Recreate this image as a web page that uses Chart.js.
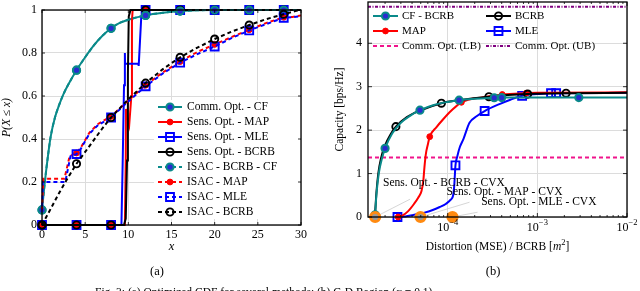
<!DOCTYPE html>
<html>
<head>
<meta charset="utf-8">
<title>Optimized CDF and C-D region</title>
<script src="https://cdn.jsdelivr.net/npm/chart.js@4.4.1/dist/chart.umd.min.js"></script>
<style>
  html, body { margin: 0; padding: 0; background: #fff; overflow: hidden; }
  #wrap { position: relative; width: 640px; height: 291px; }
  canvas { position: absolute; top: 0; }
  #cdf { left: 0; }
  #cd { left: 320px; }
  #caption { position: absolute; left: 95px; top: 286px; font: 11.5px 'Liberation Serif', serif; line-height: 13px; white-space: nowrap; color: #000; }
</style>
</head>
<body>
<div id="wrap">
  <canvas id="cdf" width="320" height="291"></canvas>
  <canvas id="cd" width="320" height="291"></canvas>
  <div id="caption">Fig. 3: (a) Optimized CDF for several methods; (b) C-D Region (α = 0.1).</div>
</div>
<script>
// ── Data: (a) CDF ──────────────────────────────────────────────
const cdfTicksX = [0, 5, 10, 15, 20, 25, 30];
const cdfTicksY = [0, 0.2, 0.4, 0.6, 0.8, 1];
const cdfTickLabelsY = ['0', '0.2', '0.4', '0.6', '0.8', '1'];
const cdfMarkX = [0, 4, 8, 12, 16, 20, 24, 28];
const isacMarkX = [4, 8, 12, 16, 20, 24, 28];

const commCfX = [0, 0.25, 0.5, 0.75, 1, 1.5, 2, 2.5, 3, 4, 5, 6, 7, 8, 9, 10, 12, 14, 16, 20, 24, 28, 30];
const commCfY = [0.07, 0.17, 0.26, 0.34, 0.41, 0.5, 0.56, 0.61, 0.65, 0.72, 0.78, 0.835, 0.88, 0.915, 0.94, 0.955, 0.975, 0.987, 0.995, 1, 1, 1, 1];

const sensMapX = [0, 4, 8, 9.6, 9.7, 9.73, 9.9, 10.1, 10.35, 10.42, 10.5, 12, 16, 20, 24, 28, 30];
const sensMapY = [0, 0, 0, 0, 0.3, 0.54, 0.5, 0.465, 0.6, 0.95, 1, 1, 1, 1, 1, 1, 1];

const sensMleX = [0, 4, 8, 9.2, 9.35, 9.5, 9.6, 9.62, 11.15, 11.2, 11.5, 12, 16, 20, 24, 28, 30];
const sensMleY = [0, 0, 0, 0, 0.3, 0.65, 0.8, 0.75, 0.75, 0.74, 0.97, 1, 1, 1, 1, 1, 1];

const sensBcrbX = [0, 4, 8, 9.5, 9.7, 9.85, 9.95, 10.05, 10.25, 12, 16, 20, 24, 28, 30];
const sensBcrbY = [0, 0, 0, 0, 0.03, 0.3, 0.7, 0.97, 1, 1, 1, 1, 1, 1, 1];

const isacCfX = [0, 0.25, 0.5, 0.75, 1, 1.5, 2, 2.5, 3, 4, 5, 6, 7, 8, 9, 10, 12, 14, 16, 20, 24, 28, 30];
const isacCfY = [0.07, 0.17, 0.26, 0.34, 0.41, 0.5, 0.56, 0.61, 0.65, 0.72, 0.78, 0.835, 0.88, 0.915, 0.94, 0.955, 0.975, 0.987, 0.995, 1, 1, 1, 1];

const isacMapX = [0, 0.15, 0.5, 1.5, 2.6, 3.2, 4, 4.5, 5.5, 6.5, 8, 10, 12, 14, 16, 18, 20, 22, 24, 26, 28, 29, 30];
const isacMapY = [0.07, 0.215, 0.215, 0.215, 0.215, 0.32, 0.335, 0.36, 0.43, 0.47, 0.505, 0.58, 0.65, 0.71, 0.76, 0.805, 0.84, 0.875, 0.908, 0.94, 0.966, 0.968, 0.975];

const isacMleX = [0, 0.1, 0.5, 1.5, 2.7, 3.3, 4, 4.5, 5.5, 6.5, 8, 10, 12, 14, 16, 18, 20, 22, 24, 26, 28, 29, 30];
const isacMleY = [0.07, 0.2, 0.2, 0.2, 0.2, 0.32, 0.33, 0.355, 0.425, 0.465, 0.5, 0.575, 0.645, 0.705, 0.755, 0.795, 0.83, 0.87, 0.905, 0.935, 0.964, 0.966, 0.972];

const isacBcrbX = [0, 1, 2, 3, 4, 5, 6, 7, 8, 10, 12, 14, 16, 18, 20, 22, 24, 26, 28, 29.5, 30];
const isacBcrbY = [0, 0.075, 0.15, 0.22, 0.285, 0.34, 0.395, 0.45, 0.5, 0.585, 0.66, 0.725, 0.78, 0.825, 0.865, 0.9, 0.93, 0.958, 0.98, 0.997, 1];

// ── Data: (b) C-D region ───────────────────────────────────────
const cdTicksX = [1e-4, 1e-3, 1e-2];
const cdTickExp = ['\u22124', '\u22123', '\u22122'];
const cdTicksY = [0, 1, 2, 3, 4];

const cfBcrbX = [1.55e-5, 1.6e-5, 1.7e-5, 1.85e-5, 2.0e-5, 2.4e-5, 3.0e-5, 3.8e-5, 4.9e-5, 7e-5, 1.0e-4, 1.34e-4, 2e-4, 2.9e-4, 3.3e-4, 4.0e-4, 1e-3, 2.9e-3, 1e-2];
const cfBcrbY = [0.05, 0.5, 1.0, 1.35, 1.58, 1.92, 2.17, 2.33, 2.46, 2.58, 2.65, 2.69, 2.72, 2.74, 2.745, 2.75, 2.75, 2.75, 2.75];
const cfBcrbMarks = [0, 4, 8, 11, 14, 15, 17];

const bcrbX = [1.53e-5, 1.56e-5, 1.6e-5, 1.68e-5, 1.8e-5, 2.0e-5, 2.3e-5, 2.64e-5, 3.5e-5, 4.9e-5, 8.5e-5, 1.34e-4, 2.88e-4, 7.8e-4, 2.09e-3, 1e-2];
const bcrbY = [0, 0.2, 0.55, 1.0, 1.35, 1.65, 1.9, 2.08, 2.3, 2.45, 2.62, 2.69, 2.77, 2.83, 2.85, 2.86];
const bcrbMarks = [7, 10, 12, 13, 14];

const mapX = [2.8e-5, 3.1e-5, 3.6e-5, 4.2e-5, 4.7e-5, 5.1e-5, 5.35e-5, 5.5e-5, 5.7e-5, 6.0e-5, 6.3e-5, 7.5e-5, 8.9e-5, 1.1e-4, 1.42e-4, 2.5e-4, 4.06e-4, 7.5e-4, 1e-3, 1e-2];
const mapY = [0, 0.03, 0.13, 0.3, 0.45, 0.6, 0.85, 1.15, 1.45, 1.67, 1.85, 2.07, 2.25, 2.45, 2.64, 2.76, 2.82, 2.85, 2.86, 2.87];
const mapMarks = [0, 10, 14, 16, 17];

const mleX = [2.75e-5, 3.2e-5, 4.2e-5, 5.5e-5, 6.8e-5, 8.15e-5, 9.5e-5, 1.08e-4, 1.15e-4, 1.18e-4, 1.2e-4, 1.22e-4, 1.28e-4, 1.36e-4, 1.5e-4, 1.75e-4, 2.1e-4, 2.58e-4, 3.78e-4, 5e-4, 6.76e-4, 1.0e-3, 1.42e-3, 1.62e-3, 1e-2];
const mleY = [0, 0.01, 0.05, 0.1, 0.16, 0.23, 0.3, 0.4, 0.5, 0.7, 0.95, 1.19, 1.4, 1.6, 1.8, 2.17, 2.32, 2.44, 2.6, 2.7, 2.79, 2.83, 2.85, 2.85, 2.86];
const mleMarks = [0, 11, 17, 20, 22, 23];

const lbX = [1.29e-5, 1e-2];
const lbY = [1.37, 1.37];
const ubX = [1.29e-5, 1e-2];
const ubY = [4.84, 4.84];

const cvxX = [1.55e-5, 4.97e-5, 1.13e-4];
const cvxY = [0, 0, 0];
const cvxLabels = ['Sens. Opt. - BCRB - CVX', 'Sens. Opt. - MAP - CVX', 'Sens. Opt. - MLE - CVX'];


// ── Styles ─────────────────────────────────────────────────────
const TEAL = '#0a8a8a', BLUE = '#0000ff', RED = '#ff0000', BLACK = '#000000';
const PINK = '#f0148c', PURPLE = '#7f007f', ORANGE = '#ff8a10', GRID = '#dcdcdc';
const FONT = "'Liberation Serif', 'DejaVu Serif', serif";
const TXT = 11.5, TICK = 12;
const LW = 2;
const DASH = [4, 3];
const DASH_DOT = [3, 1.5, 1, 1.5];

const MARKS = {
  cf:   { style: 'circle', r: 3.6, bg: '#2a2ad0', border: TEAL, bw: 2 },
  dot:  { style: 'circle', r: 2.9, bg: RED, border: RED, bw: 1 },
  sq:   { style: 'rect',   r: 5.6, bg: null, border: BLUE, bw: 1.9 },
  ring: { style: 'circle', r: 3.6, bg: null, border: BLACK, bw: 1.9 },
};

function pts(xs, ys) { return xs.map((x, i) => ({ x, y: ys[i] })); }
function idxAt(xs, marks) { return xs.map((x, i) => marks.includes(x) ? i : -1).filter(i => i >= 0); }

function line(label, xs, ys, color, mark, markIdx, extra) {
  const m = MARKS[mark];
  return Object.assign({
    label, data: pts(xs, ys),
    borderColor: color, borderWidth: LW, borderDash: [], tension: 0,
    pointStyle: m.style,
    pointRadius: c => markIdx.includes(c.dataIndex) ? m.r : 0,
    pointBackgroundColor: m.bg || 'rgba(0,0,0,0)',
    pointBorderColor: m.border, pointBorderWidth: m.bw,
    clip: false, fill: false
  }, extra || {});
}

function drawMark(ctx, m, x, y) {
  ctx.save();
  ctx.setLineDash([]);
  ctx.beginPath();
  if (m.style === 'rect') {
    const s = m.r * Math.SQRT1_2;
    ctx.rect(x - s, y - s, 2 * s, 2 * s);
  } else {
    ctx.arc(x, y, m.r, 0, Math.PI * 2);
  }
  if (m.bg) { ctx.fillStyle = m.bg; ctx.fill(); }
  ctx.lineWidth = m.bw; ctx.strokeStyle = m.border; ctx.stroke();
  ctx.restore();
}

function legendSample(ctx, x0, x1, y, e) {
  ctx.save();
  ctx.strokeStyle = e.color; ctx.lineWidth = LW; ctx.setLineDash(e.dash || []);
  ctx.beginPath(); ctx.moveTo(x0, y); ctx.lineTo(x1, y); ctx.stroke();
  ctx.restore();
  if (e.mark) drawMark(ctx, MARKS[e.mark], (x0 + x1) / 2, y);
}

function text(ctx, s, x, y, size, align, italic, base) {
  ctx.font = (italic ? 'italic ' : '') + size + 'px ' + FONT;
  ctx.textAlign = align || 'center';
  ctx.textBaseline = base || 'middle';
  ctx.fillStyle = '#000';
  ctx.fillText(s, x, y);
}

function fixedTicks(values) {
  return axis => { axis.ticks = values.map(v => ({ value: v })); };
}


// ── (a) CDF chart ──────────────────────────────────────────────
const cdfLegend = [
  { label: 'Comm. Opt. - CF',     color: TEAL,  mark: 'cf' },
  { label: 'Sens. Opt. - MAP',    color: RED,   mark: 'dot' },
  { label: 'Sens. Opt. - MLE',    color: BLUE,  mark: 'sq' },
  { label: 'Sens. Opt. - BCRB',   color: BLACK, mark: 'ring' },
  { label: 'ISAC - BCRB - CF',    color: TEAL,  mark: 'cf',   dash: DASH },
  { label: 'ISAC - MAP',          color: RED,   mark: 'dot',  dash: DASH },
  { label: 'ISAC - MLE',          color: BLUE,  mark: 'sq',   dash: DASH },
  { label: 'ISAC - BCRB',         color: BLACK, mark: 'ring', dash: DASH },
];

const cdfDecor = {
  id: 'cdfDecor',
  afterDatasetsDraw(chart) {
    const { ctx, chartArea: a, scales: { x, y } } = chart;
    ctx.save();

    // legend (opaque box)
    const lx = a.left + 112, ly = a.top + 90;
    ctx.fillStyle = '#fff';
    ctx.fillRect(lx, ly, a.right - lx - 1, 119);
    cdfLegend.forEach((e, i) => {
      const ry = ly + 7 + i * 15;
      legendSample(ctx, lx + 4, lx + 28, ry, e);
      text(ctx, e.label, lx + 33, ry, TXT, 'left');
    });

    // frame
    ctx.strokeStyle = '#000'; ctx.lineWidth = 1.3; ctx.setLineDash([]);
    ctx.strokeRect(a.left, a.top, a.right - a.left, a.bottom - a.top);

    // ticks + labels
    ctx.lineWidth = 0.8;
    cdfTicksX.forEach(v => {
      const px = x.getPixelForValue(v);
      ctx.beginPath();
      ctx.moveTo(px, a.bottom); ctx.lineTo(px, a.bottom - 3);
      ctx.moveTo(px, a.top); ctx.lineTo(px, a.top + 3);
      ctx.stroke();
      text(ctx, String(v), px, a.bottom + 10, TICK);
    });
    cdfTicksY.forEach((v, i) => {
      const py = y.getPixelForValue(v);
      ctx.beginPath();
      ctx.moveTo(a.left, py); ctx.lineTo(a.left + 3, py);
      ctx.moveTo(a.right, py); ctx.lineTo(a.right - 3, py);
      ctx.stroke();
      text(ctx, cdfTickLabelsY[i], a.left - 5, py, TICK, 'right');
    });

    // axis titles + sub-caption
    text(ctx, 'x', (a.left + a.right) / 2, 247, 12.5, 'center', true);
    ctx.save();
    ctx.translate(7, (a.top + a.bottom) / 2);
    ctx.rotate(-Math.PI / 2);
    text(ctx, 'P(X \u2264 x)', 0, 0, 11.5, 'center', true);
    ctx.restore();
    text(ctx, '(a)', 157, 272, 12.5);

    ctx.restore();
  }
};

const cdfSets = [
  line('Comm. Opt. - CF', commCfX, commCfY, TEAL, 'cf', idxAt(commCfX, cdfMarkX), { cubicInterpolationMode: 'monotone' }),
  line('Sens. Opt. - MAP', sensMapX, sensMapY, RED, 'dot', idxAt(sensMapX, cdfMarkX)),
  line('Sens. Opt. - MLE', sensMleX, sensMleY, BLUE, 'sq', idxAt(sensMleX, cdfMarkX)),
  line('Sens. Opt. - BCRB', sensBcrbX, sensBcrbY, BLACK, 'ring', idxAt(sensBcrbX, cdfMarkX)),
  line('ISAC - BCRB - CF', isacCfX, isacCfY, TEAL, 'cf', idxAt(isacCfX, cdfMarkX), { borderDash: DASH, cubicInterpolationMode: 'monotone' }),
  line('ISAC - MAP', isacMapX, isacMapY, RED, 'dot', idxAt(isacMapX, isacMarkX), { borderDash: DASH }),
  line('ISAC - MLE', isacMleX, isacMleY, BLUE, 'sq', idxAt(isacMleX, isacMarkX), { borderDash: DASH, borderDashOffset: 3.5 }),
  line('ISAC - BCRB', isacBcrbX, isacBcrbY, BLACK, 'ring', idxAt(isacBcrbX, cdfMarkX), { borderDash: DASH }),
];
// later series drawn on top, as in the original figure
cdfSets.forEach((d, i) => { d.order = cdfSets.length - i; });

new Chart(document.getElementById('cdf'), {
  type: 'line',
  data: { datasets: cdfSets },
  options: {
    responsive: false, animation: false, events: [], devicePixelRatio: 1,
    layout: { autoPadding: false, padding: { left: 42, top: 10, right: 19, bottom: 66 } },
    plugins: { legend: { display: false }, tooltip: { enabled: false } },
    scales: {
      x: {
        type: 'linear', min: 0, max: 30,
        afterBuildTicks: fixedTicks(cdfTicksX),
        ticks: { display: false },
        grid: { color: GRID, lineWidth: 1, drawTicks: false },
        border: { display: false }
      },
      y: {
        type: 'linear', min: 0, max: 1,
        afterBuildTicks: fixedTicks(cdfTicksY),
        ticks: { display: false },
        grid: { color: GRID, lineWidth: 1, drawTicks: false },
        border: { display: false }
      }
    }
  },
  plugins: [cdfDecor]
});


// ── (b) C-D region chart ───────────────────────────────────────
const cdLegend = [
  [{ label: 'CF - BCRB', color: TEAL, mark: 'cf' },        { label: 'BCRB', color: BLACK, mark: 'ring' }],
  [{ label: 'MAP', color: RED, mark: 'dot' },              { label: 'MLE', color: BLUE, mark: 'sq' }],
  [{ label: 'Comm. Opt. (LB)', color: PINK, dash: DASH },  { label: 'Comm. Opt. (UB)', color: PURPLE, dash: DASH_DOT }],
];

// annotation anchors (data coordinates)
const pinTextX = [1.9e-5, 9.7e-5, 2.36e-4];
const pinTextY = [0.78, 0.58, 0.35];
const pinEndX = [3.8e-5, 1.75e-4, 2.15e-4];
const pinEndY = [0.41, 0.34, 0.11];

const cdDecor = {
  id: 'cdDecor',
  beforeDatasetsDraw(chart) {
    const { ctx, scales: { x, y } } = chart;
    ctx.save();
    ctx.strokeStyle = '#c4c4c4'; ctx.lineWidth = 0.7;
    cvxX.forEach((v, i) => {
      ctx.beginPath();
      ctx.moveTo(x.getPixelForValue(v), y.getPixelForValue(cvxY[i]));
      ctx.lineTo(x.getPixelForValue(pinEndX[i]), y.getPixelForValue(pinEndY[i]));
      ctx.stroke();
    });
    ctx.restore();
  },
  afterDatasetsDraw(chart) {
    const { ctx, chartArea: a, scales: { x, y } } = chart;
    ctx.save();

    // pin labels
    cvxLabels.forEach((s, i) => {
      text(ctx, s, x.getPixelForValue(pinTextX[i]), y.getPixelForValue(pinTextY[i]), TXT, 'left');
    });

    // legend (two columns)
    cdLegend.forEach((row, r) => {
      const ry = 16 + r * 15;
      row.forEach((e, c) => {
        const sx = c === 0 ? a.left + 5 : a.left + 118;
        legendSample(ctx, sx, sx + 25, ry, e);
        text(ctx, e.label, sx + 29, ry, 11, 'left');
      });
    });

    // frame
    ctx.strokeStyle = '#000'; ctx.lineWidth = 1.3; ctx.setLineDash([]);
    ctx.strokeRect(a.left, a.top, a.right - a.left, a.bottom - a.top);

    // x ticks (log, with minor ticks)
    ctx.lineWidth = 0.8;
    for (let k = -5; k <= -3; k++) {
      for (let m = 2; m <= 9; m++) {
        const v = m * Math.pow(10, k);
        if (v <= x.min || v >= x.max) continue;
        const px = x.getPixelForValue(v);
        ctx.beginPath();
        ctx.moveTo(px, a.bottom); ctx.lineTo(px, a.bottom - 2);
        ctx.moveTo(px, a.top); ctx.lineTo(px, a.top + 2);
        ctx.stroke();
      }
    }
    cdTicksX.forEach((v, i) => {
      const px = x.getPixelForValue(v);
      ctx.beginPath();
      ctx.moveTo(px, a.bottom); ctx.lineTo(px, a.bottom - 4);
      ctx.moveTo(px, a.top); ctx.lineTo(px, a.top + 4);
      ctx.stroke();
      ctx.font = TICK + 'px ' + FONT; const w1 = ctx.measureText('10').width;
      ctx.font = '8.5px ' + FONT; const w2 = ctx.measureText(cdTickExp[i]).width;
      const left = px - (w1 + w2) / 2;
      text(ctx, '10', left, a.bottom + 11, TICK, 'left');
      text(ctx, cdTickExp[i], left + w1, a.bottom + 6, 8.5, 'left');
    });
    cdTicksY.forEach(v => {
      const py = y.getPixelForValue(v);
      ctx.beginPath();
      ctx.moveTo(a.left, py); ctx.lineTo(a.left + 4, py);
      ctx.moveTo(a.right, py); ctx.lineTo(a.right - 4, py);
      ctx.stroke();
      text(ctx, String(v), a.left - 6, py, TICK, 'right');
    });

    // x title with italic m and superscript 2
    const parts = [['Distortion (MSE) / BCRB [', TXT, false, 0], ['m', TXT, true, 0], ['2', 8.5, false, -4], [']', TXT, false, 0]];
    let total = 0;
    parts.forEach(p => { ctx.font = (p[2] ? 'italic ' : '') + p[1] + 'px ' + FONT; p.push(ctx.measureText(p[0]).width); total += p[4]; });
    let cx = (a.left + a.right) / 2 - total / 2;
    parts.forEach(p => { text(ctx, p[0], cx, 247 + p[3], p[1], 'left', p[2]); cx += p[4]; });

    // y title + sub-caption
    ctx.save();
    ctx.translate(20, (a.top + a.bottom) / 2);
    ctx.rotate(-Math.PI / 2);
    text(ctx, 'Capacity [bps/Hz]', 0, 0, TXT);
    ctx.restore();
    text(ctx, '(b)', 173, 272, 12.5);

    ctx.restore();
  }
};

const cdSets = [
  {
    label: 'CVX', data: pts(cvxX, cvxY), showLine: false, clip: false,
    pointStyle: 'circle', pointRadius: 4.6,
    pointBackgroundColor: ['#9a9a9a', '#9a9a9a', ORANGE],
    pointBorderColor: ORANGE, pointBorderWidth: 3
  },
  line('CF - BCRB', cfBcrbX, cfBcrbY, TEAL, 'cf', cfBcrbMarks, { cubicInterpolationMode: 'monotone' }),
  line('BCRB', bcrbX, bcrbY, BLACK, 'ring', bcrbMarks, { cubicInterpolationMode: 'monotone' }),
  line('MAP', mapX, mapY, RED, 'dot', mapMarks, { cubicInterpolationMode: 'monotone' }),
  line('MLE', mleX, mleY, BLUE, 'sq', mleMarks, { cubicInterpolationMode: 'monotone' }),
  { label: 'Comm. Opt. (LB)', data: pts(lbX, lbY), borderColor: PINK, borderWidth: LW, borderDash: DASH, pointRadius: 0, fill: false },
  { label: 'Comm. Opt. (UB)', data: pts(ubX, ubY), borderColor: PURPLE, borderWidth: LW, borderDash: DASH_DOT, pointRadius: 0, fill: false },
];

new Chart(document.getElementById('cd'), {
  type: 'line',
  data: { datasets: cdSets },
  options: {
    responsive: false, animation: false, events: [], devicePixelRatio: 1,
    layout: { autoPadding: false, padding: { left: 48, top: 2, right: 13, bottom: 74 } },
    plugins: { legend: { display: false }, tooltip: { enabled: false } },
    scales: {
      x: {
        type: 'logarithmic', min: 1.29e-5, max: 1e-2,
        afterBuildTicks: fixedTicks(cdTicksX),
        ticks: { display: false },
        grid: { color: GRID, lineWidth: 1, drawTicks: false },
        border: { display: false }
      },
      y: {
        type: 'linear', min: 0, max: 4.95,
        afterBuildTicks: fixedTicks(cdTicksY),
        ticks: { display: false },
        grid: { color: GRID, lineWidth: 1, drawTicks: false },
        border: { display: false }
      }
    }
  },
  plugins: [cdDecor]
});
</script>
</body>
</html>
